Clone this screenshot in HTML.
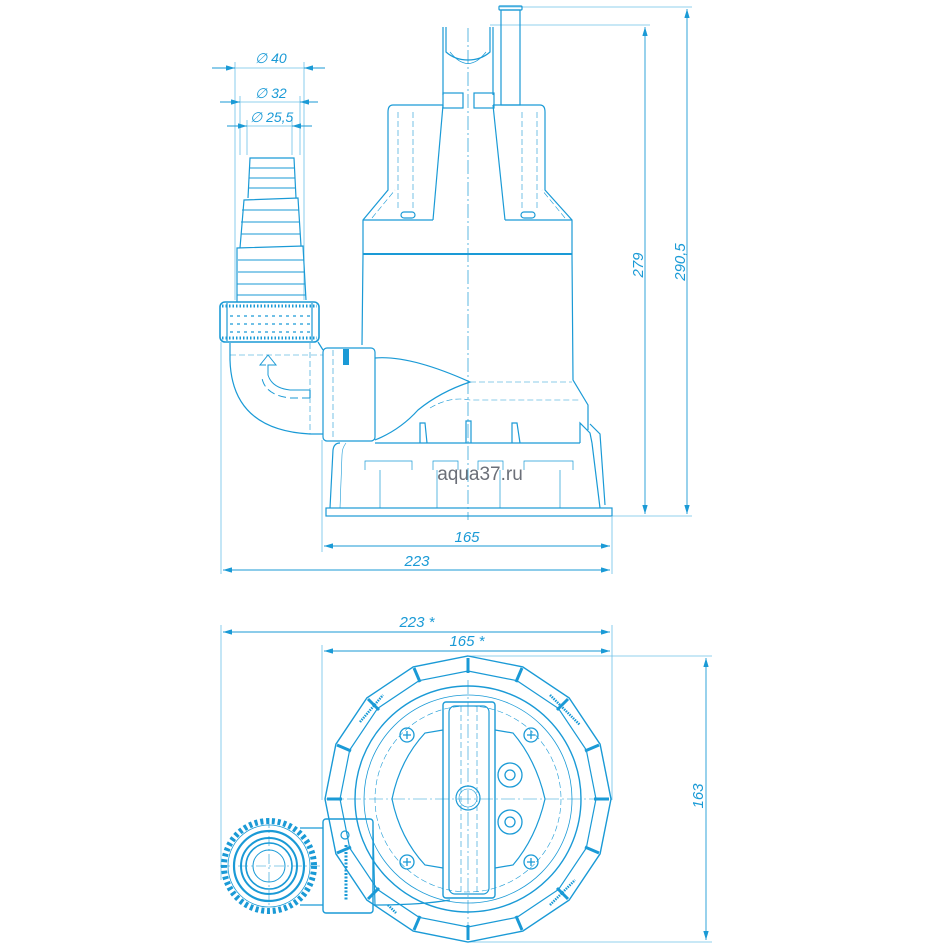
<!DOCTYPE html>
<html><head><meta charset="utf-8"><style>
html,body{margin:0;padding:0;background:#fff;}
svg{display:block;}
text{font-family:"Liberation Sans",sans-serif;font-style:italic;fill:#1a9ad6;}
</style></head><body>
<svg width="946" height="946" viewBox="0 0 946 946" xmlns="http://www.w3.org/2000/svg">
<defs>
<marker id="a" viewBox="0 0 10 6" refX="10" refY="3" markerWidth="10" markerHeight="6" orient="auto-start-reverse"><path d="M0,0 L10,3 L0,6 z" fill="#1a9ad6"/></marker>
</defs>
<g stroke="#1a9ad6" fill="none" stroke-width="1.2">
<!-- ===== SIDE VIEW dimension lines ===== -->
<g stroke-width="0.8" stroke="#6cc0e8">
<line x1="500" y1="7" x2="692" y2="7"/>
<line x1="490" y1="25" x2="650" y2="25"/>
<line x1="612" y1="516" x2="692" y2="516"/>
<line x1="212" y1="68" x2="325" y2="68"/>
<line x1="220" y1="102" x2="318" y2="102"/>
<line x1="227" y1="126" x2="312" y2="126"/>
<line x1="235" y1="62" x2="235" y2="300"/>
<line x1="304" y1="62" x2="304" y2="300"/>
<line x1="240" y1="96" x2="240" y2="155"/>
<line x1="300" y1="96" x2="300" y2="155"/>
<line x1="247" y1="120" x2="247" y2="155"/>
<line x1="292" y1="120" x2="292" y2="155"/>
<line x1="221" y1="342" x2="221" y2="574"/>
<line x1="322" y1="440" x2="322" y2="552"/>
<line x1="612" y1="517" x2="612" y2="574"/>
</g>
<line x1="687" y1="9" x2="687" y2="514" marker-start="url(#a)" marker-end="url(#a)" stroke-width="0.9"/>
<line x1="645" y1="27" x2="645" y2="514" marker-start="url(#a)" marker-end="url(#a)" stroke-width="0.9"/>
<line x1="324" y1="546" x2="610" y2="546" marker-start="url(#a)" marker-end="url(#a)" stroke-width="0.9"/>
<line x1="223" y1="570" x2="610" y2="570" marker-start="url(#a)" marker-end="url(#a)" stroke-width="0.9"/>
<line x1="212" y1="68" x2="235" y2="68" marker-end="url(#a)" stroke-width="0.9"/>
<line x1="325" y1="68" x2="304" y2="68" marker-end="url(#a)" stroke-width="0.9"/>
<line x1="220" y1="102" x2="240" y2="102" marker-end="url(#a)" stroke-width="0.9"/>
<line x1="318" y1="102" x2="300" y2="102" marker-end="url(#a)" stroke-width="0.9"/>
<line x1="227" y1="126" x2="247" y2="126" marker-end="url(#a)" stroke-width="0.9"/>
<line x1="312" y1="126" x2="292" y2="126" marker-end="url(#a)" stroke-width="0.9"/>

<!-- center line -->
<line x1="468" y1="28" x2="468" y2="520" stroke-dasharray="14 3 2 3" stroke-width="0.7"/>

<!-- handle rod -->
<rect x="499" y="6" width="23" height="4" rx="1"/>
<rect x="501" y="10" width="19" height="95"/>
<!-- handle U -->
<path d="M446,27 L446,52 Q455,60 468,60 Q481,60 490,52 L490,27"/>
<path d="M443,27 L443,95 M493,27 L493,95"/>
<path d="M450,52 Q468,75 486,52" stroke-width="0.7"/>
<rect x="443" y="93" width="20" height="15"/><rect x="474" y="93" width="20" height="15"/>
<!-- top housing -->
<path d="M443,105 L393,105 Q388,105 388,112 L388,190 L363,220 L363,255"/>
<path d="M493,105 L540,105 Q545,105 545,112 L545,190 L572,220 L572,255"/>
<line x1="443" y1="105" x2="433" y2="220"/>
<line x1="493" y1="105" x2="505" y2="220"/>
<line x1="363" y1="220" x2="433" y2="220"/><line x1="505" y1="220" x2="572" y2="220"/>
<g stroke-width="0.6" stroke-dasharray="6 3">
<line x1="398" y1="112" x2="398" y2="210"/><line x1="413" y1="112" x2="413" y2="210"/>
<line x1="522" y1="112" x2="522" y2="210"/><line x1="537" y1="112" x2="537" y2="210"/>
<line x1="372" y1="218" x2="395" y2="190"/><line x1="565" y1="218" x2="542" y2="190"/>
</g>
<rect x="401" y="212" width="14" height="6" rx="3"/><rect x="521" y="212" width="14" height="6" rx="3"/>
<line x1="363" y1="254" x2="572" y2="254" stroke-width="2"/>
<!-- body -->
<path d="M363,255 L362,345 M572,255 L573,380 L588,405 L588,430"/>
<!-- outlet transition -->
<path d="M375,358 Q410,355 470,382 Q440,392 418,410 Q400,430 375,440"/>
<g stroke-width="0.6" stroke-dasharray="6 3">
<path d="M470,382 L572,382"/>
<path d="M430,408 Q450,396 470,400 L580,400"/>
<path d="M375,440 L375,358"/>
</g>
<!-- legs/ribs -->
<path d="M420,443 L420,423 L425,423 L427,443"/>
<path d="M466,443 L466,421 L471,421 L471,443"/>
<path d="M512,443 L512,423 L517,423 L520,443"/>
<path d="M580,443 L580,423 L590,433 L592,443"/>
<path d="M590,424 L600,434 L605,505"/>
<!-- base -->
<path d="M375,443 L580,443"/>
<path d="M340,443 Q334,443 333,450 L330,508 M592,443 L600,508"/>
<path d="M346,443 Q342,448 342,455 L340,508" stroke-width="0.6"/>
<rect x="326" y="508" width="286" height="8"/>
<g stroke-width="0.7">
<path d="M365,470 L365,461 L412,461 L412,470"/><path d="M524,470 L524,461 L573,461 L573,470"/>
<path d="M433,470 L433,461 L458,461 L458,470"/><path d="M478,470 L478,461 L503,461 L503,470"/>
<line x1="380" y1="470" x2="380" y2="508"/><line x1="437" y1="470" x2="437" y2="508"/>
<line x1="500" y1="470" x2="500" y2="508"/><line x1="560" y1="470" x2="560" y2="508"/>
</g>
<!-- fitting block -->
<rect x="323" y="348" width="52" height="93" rx="4"/>
<line x1="333" y1="350" x2="333" y2="439" stroke-width="0.6" stroke-dasharray="6 3"/>
<rect x="343" y="349" width="6" height="16" fill="#1a9ad6" stroke="none"/>
<!-- elbow -->
<path d="M230,343 L230,360 Q232,430 310,434 L323,434"/>
<line x1="230" y1="355" x2="323" y2="355" stroke-width="0.6" stroke-dasharray="6 3"/>
<line x1="310" y1="343" x2="310" y2="434" stroke-width="0.6" stroke-dasharray="6 3"/>
<line x1="318" y1="342" x2="323" y2="350"/>
<!-- arrow -->
<path d="M310,390 L290,390 Q272,388 268,375 L268,365 L276,365 L268,355 L260,365 L266,365" stroke-width="1"/>
<path d="M310,398 L290,398 Q265,395 262,378" stroke-width="1" stroke-dasharray="8 4"/>
<line x1="310" y1="390" x2="310" y2="398"/>
<!-- nut -->
<rect x="220" y="302" width="99" height="40" rx="5" stroke-width="1.6"/>
<line x1="222" y1="306" x2="317" y2="306" stroke-width="3" stroke-dasharray="1.5 2"/>
<line x1="222" y1="338" x2="317" y2="338" stroke-width="3" stroke-dasharray="1.5 2"/>
<g stroke-width="1.2" stroke-dasharray="3 4">
<line x1="230" y1="316" x2="312" y2="316"/><line x1="230" y1="324" x2="312" y2="324"/><line x1="230" y1="332" x2="312" y2="332"/>
</g>
<line x1="227" y1="303" x2="227" y2="341"/><line x1="312" y1="303" x2="312" y2="341"/>
<!-- hose barb -->
<path d="M237,302 L237,248 L303,246 L306,300"/>
<path d="M240,248 L244,200 L298,198 L301,246"/>
<path d="M248,198 L250,158 L294,158 L296,198"/>
<g stroke-width="0.9">
<line x1="238" y1="260" x2="304" y2="260"/><line x1="238" y1="272" x2="305" y2="272"/><line x1="237" y1="284" x2="305" y2="284"/><line x1="237" y1="295" x2="306" y2="295"/>
<line x1="242" y1="210" x2="299" y2="210"/><line x1="241" y1="222" x2="300" y2="222"/><line x1="241" y1="234" x2="300" y2="234"/>
<line x1="249" y1="168" x2="295" y2="168"/><line x1="249" y1="178" x2="295" y2="178"/><line x1="248" y1="188" x2="296" y2="188"/>
</g>

<!-- ===== TOP VIEW ===== -->
<g stroke-width="0.8" stroke="#6cc0e8">
<line x1="221" y1="625" x2="221" y2="880"/>
<line x1="612" y1="625" x2="612" y2="800"/>
<line x1="322" y1="645" x2="322" y2="800"/>
<line x1="468" y1="656" x2="712" y2="656"/>
<line x1="468" y1="942" x2="712" y2="942"/>
</g>
<line x1="223" y1="632" x2="610" y2="632" marker-start="url(#a)" marker-end="url(#a)" stroke-width="0.9"/>
<line x1="324" y1="651" x2="610" y2="651" marker-start="url(#a)" marker-end="url(#a)" stroke-width="0.9"/>
<line x1="706" y1="658" x2="706" y2="940" marker-start="url(#a)" marker-end="url(#a)" stroke-width="0.9"/>
<polygon points="468,656 522.8,666.9 569.1,697.9 600.1,744.2 611,799 600.1,853.8 569.1,900.1 522.8,931.1 468,942 413.2,931.1 366.9,900.1 335.9,853.8 325,799 335.9,744.2 366.9,697.9 413.2,666.9" stroke-width="1.4"/>
<polygon points="468,671 517,680.7 558.5,708.5 586.3,750 596,799 586.3,848 558.5,889.5 517,917.3 468,927 419,917.3 377.5,889.5 349.7,848 340,799 349.7,750 377.5,708.5 419,680.7"/>
<g stroke-width="3">
<line x1="468" y1="658" x2="468" y2="673"/><line x1="468" y1="925" x2="468" y2="940"/>
<line x1="327" y1="799" x2="342" y2="799"/><line x1="594" y1="799" x2="609" y2="799"/>
<line x1="568" y1="699" x2="557" y2="710"/><line x1="368" y1="699" x2="379" y2="710"/>
<line x1="568" y1="899" x2="557" y2="888"/><line x1="368" y1="899" x2="379" y2="888"/>
<line x1="522" y1="668" x2="516" y2="682"/><line x1="414" y1="668" x2="420" y2="682"/>
<line x1="522" y1="930" x2="516" y2="916"/><line x1="414" y1="930" x2="420" y2="916"/>
<line x1="599" y1="745" x2="585" y2="751"/><line x1="337" y1="745" x2="351" y2="751"/>
<line x1="599" y1="853" x2="585" y2="847"/><line x1="337" y1="853" x2="351" y2="847"/>
</g>
<circle cx="468" cy="799" r="113" stroke-width="1.4"/>
<circle cx="468" cy="799" r="104" stroke-width="0.8"/>
<circle cx="468" cy="799" r="93" stroke-width="0.6" stroke-dasharray="6 3"/>
<path d="M443,730 L425,733 Q400,760 392,799 Q400,838 425,865 L443,868" />
<path d="M495,730 L513,733 Q536,760 545,799 Q536,838 513,865 L495,868" />
<line x1="325" y1="799" x2="612" y2="799" stroke-width="0.6" stroke-dasharray="14 3 2 3"/>
<line x1="468" y1="680" x2="468" y2="935" stroke-width="0.6" stroke-dasharray="14 3 2 3"/>
<!-- handle bar -->
<rect x="443" y="702" width="52" height="196" rx="3" stroke-width="1.4"/>
<rect x="449" y="706" width="40" height="188" rx="6"/>
<line x1="461" y1="706" x2="461" y2="894" stroke-width="0.6" stroke-dasharray="6 3"/>
<line x1="477" y1="706" x2="477" y2="894" stroke-width="0.6" stroke-dasharray="6 3"/>
<circle cx="468" cy="798" r="12"/><circle cx="468" cy="798" r="9" stroke-width="0.6"/>
<!-- screws -->
<g stroke-width="1.3">
<circle cx="407" cy="735" r="7"/><circle cx="531" cy="735" r="7"/>
<circle cx="407" cy="862" r="7"/><circle cx="531" cy="862" r="7"/>
<path d="M403,735h8M407,731v8M527,735h8M531,731v8M403,862h8M407,858v8M527,862h8M531,858v8"/>
<circle cx="510" cy="775" r="12"/><circle cx="510" cy="775" r="5"/>
<circle cx="510" cy="822" r="12"/><circle cx="510" cy="822" r="5"/>
</g>
<!-- fitting block top view -->
<path d="M373,830 L375,905 Q420,905 450,900"/>
<line x1="300" y1="828" x2="323" y2="828"/><line x1="300" y1="905" x2="323" y2="905"/>
<rect x="323" y="819" width="50" height="94" rx="3" stroke-width="1.4"/>
<circle cx="345" cy="835" r="4"/>
<line x1="346" y1="845" x2="346" y2="900" stroke-width="3" stroke-dasharray="2 1.5"/>
<!-- gear nut -->
<circle cx="269" cy="866" r="45" stroke-width="6" stroke-dasharray="3 2.8"/>
<circle cx="269" cy="866" r="41" stroke-width="0.8"/>
<circle cx="269" cy="866" r="35" stroke-width="2.2"/>
<circle cx="269" cy="866" r="28" stroke-width="2"/>
<circle cx="269" cy="866" r="23" stroke-width="1.6"/>
<circle cx="269" cy="866" r="16" stroke-width="1"/>
<line x1="220" y1="866" x2="320" y2="866" stroke-width="0.6" stroke-dasharray="10 3 2 3"/>
<line x1="269" y1="818" x2="269" y2="914" stroke-width="0.6" stroke-dasharray="10 3 2 3"/>
<!-- small logos on rim -->
<g stroke-width="2.5" stroke-dasharray="1.5 1">
<line x1="360" y1="722" x2="383" y2="695"/>
<line x1="550" y1="695" x2="580" y2="725"/>
<line x1="550" y1="905" x2="575" y2="880"/>
<line x1="388" y1="905" x2="396" y2="913"/>
</g>
</g>
<!-- labels -->
<text x="255" y="63" font-size="14">∅ 40</text>
<text x="255" y="98" font-size="14">∅ 32</text>
<text x="250" y="122" font-size="14">∅ 25,5</text>
<text x="467" y="542" font-size="15" text-anchor="middle">165</text>
<text x="417" y="566" font-size="15" text-anchor="middle">223</text>
<text x="0" y="0" font-size="15" text-anchor="middle" transform="translate(643,265) rotate(-90)">279</text>
<text x="0" y="0" font-size="15" text-anchor="middle" transform="translate(685,262) rotate(-90)">290,5</text>
<text x="417" y="627" font-size="15" text-anchor="middle">223 *</text>
<text x="467" y="646" font-size="15" text-anchor="middle">165 *</text>
<text x="0" y="0" font-size="15" text-anchor="middle" transform="translate(703,796) rotate(-90)">163</text>
<text x="480" y="480" font-size="19" text-anchor="middle" style="font-style:normal;fill:#6b6f78">aqua37.ru</text>
</svg>
</body></html>
